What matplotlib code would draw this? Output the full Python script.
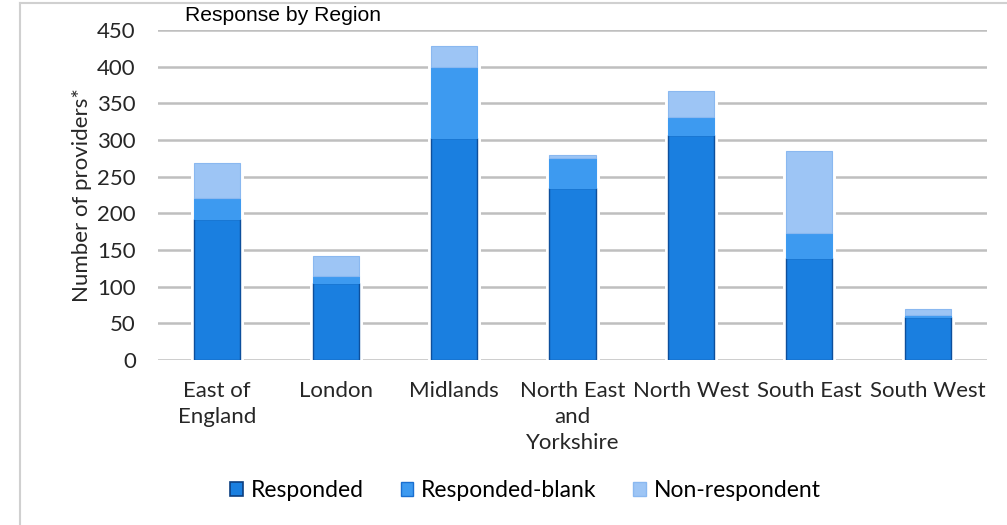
import matplotlib
matplotlib.use("Agg")
import matplotlib.pyplot as plt
from matplotlib.lines import Line2D
from matplotlib.patches import Patch
import numpy as np

regions = ["East of\nEngland", "London", "Midlands", "North East\nand\nYorkshire",
           "North West", "South East", "South West"]
responded = [192, 105, 303, 234, 307, 139, 58]
responded_blank = [29, 10, 97, 41, 25, 34, 3]
non_respondent = [47, 27, 28, 4, 35, 112, 8]
yticks = [0, 50, 100, 150, 200, 250, 300, 350, 400, 450]
series_names = ["Responded", "Responded-blank", "Non-respondent"]

c_resp = "#1a7fe0"
c_blank = "#3d9af0"
c_non = "#9dc5f5"

fig = plt.figure(figsize=(10.07, 5.25), dpi=100)
ax = fig.add_axes([0.1569, 0.3143, 0.8232, 0.6286])

x = np.arange(len(regions))
w = 0.39
resp = np.array(responded)
blank = np.array(responded_blank)
non = np.array(non_respondent)
tot = resp + blank + non

# white halo behind bars (gridline gaps)
ax.bar(x, tot, w, color="white", edgecolor="white", linewidth=5, zorder=2)
ax.bar(x, resp, w, color=c_resp, edgecolor="#0d4f9c", linewidth=1.0, zorder=3)
ax.bar(x, blank, w, bottom=resp, color=c_blank, edgecolor=c_blank, linewidth=0.8, zorder=3)
ax.bar(x, non, w, bottom=resp + blank, color=c_non, edgecolor="#8ab8f0", linewidth=0.8, zorder=3)

ax.set_xlim(-0.5, len(regions) - 0.5)
ax.set_ylim(0, 450)
ax.set_yticks(yticks)
ax.yaxis.grid(True, color="#bfbfbf", linewidth=1.8, zorder=1)
ax.set_axisbelow(True)
for s in ["top", "right", "left", "bottom"]:
    ax.spines[s].set_visible(False)

tick_font = dict(family=["Lato", "DejaVu Sans"], size=16, color="#262626")
ax.set_yticks(yticks)
ax.set_yticklabels([str(v) for v in yticks], **tick_font)
ax.set_xticks(x)
ax.set_xticklabels(regions, **tick_font, linespacing=1.38, va="top")
ax.tick_params(axis="both", length=0)
ax.tick_params(axis="y", pad=16)
ax.tick_params(axis="x", pad=15)

ax.set_ylabel("Number of providers*", family=["Lato", "DejaVu Sans"], size=16,
              color="#262626", labelpad=4)

fig.text(0.1837, 0.971, "Response by Region", family=["Liberation Sans", "DejaVu Sans"],
         size=15.2, color="black", ha="left", va="center")

handles = [Patch(facecolor=c_resp, edgecolor="#0d3f80", linewidth=1.2),
           Patch(facecolor=c_blank, edgecolor="#1a6fd0", linewidth=1.0),
           Patch(facecolor=c_non, edgecolor="#8ab8f0", linewidth=1.0)]
fig.legend(handles, series_names, loc="center", bbox_to_anchor=(0.522, 0.065), ncol=3,
           frameon=False, prop=dict(family=["Lato", "DejaVu Sans"], size=16.5),
           handlelength=0.55, handleheight=0.55, handletextpad=0.35, columnspacing=1.6)

# outer chart border (left and top)
fig.add_artist(Line2D([20 / 1007, 20 / 1007], [0, 1 - 3 / 525], transform=fig.transFigure,
                      color="#d0d0d0", linewidth=1.5))
fig.add_artist(Line2D([20 / 1007, 1], [1 - 3 / 525, 1 - 3 / 525], transform=fig.transFigure,
                      color="#d0d0d0", linewidth=1.5))

fig.savefig("out.png", dpi=100)
